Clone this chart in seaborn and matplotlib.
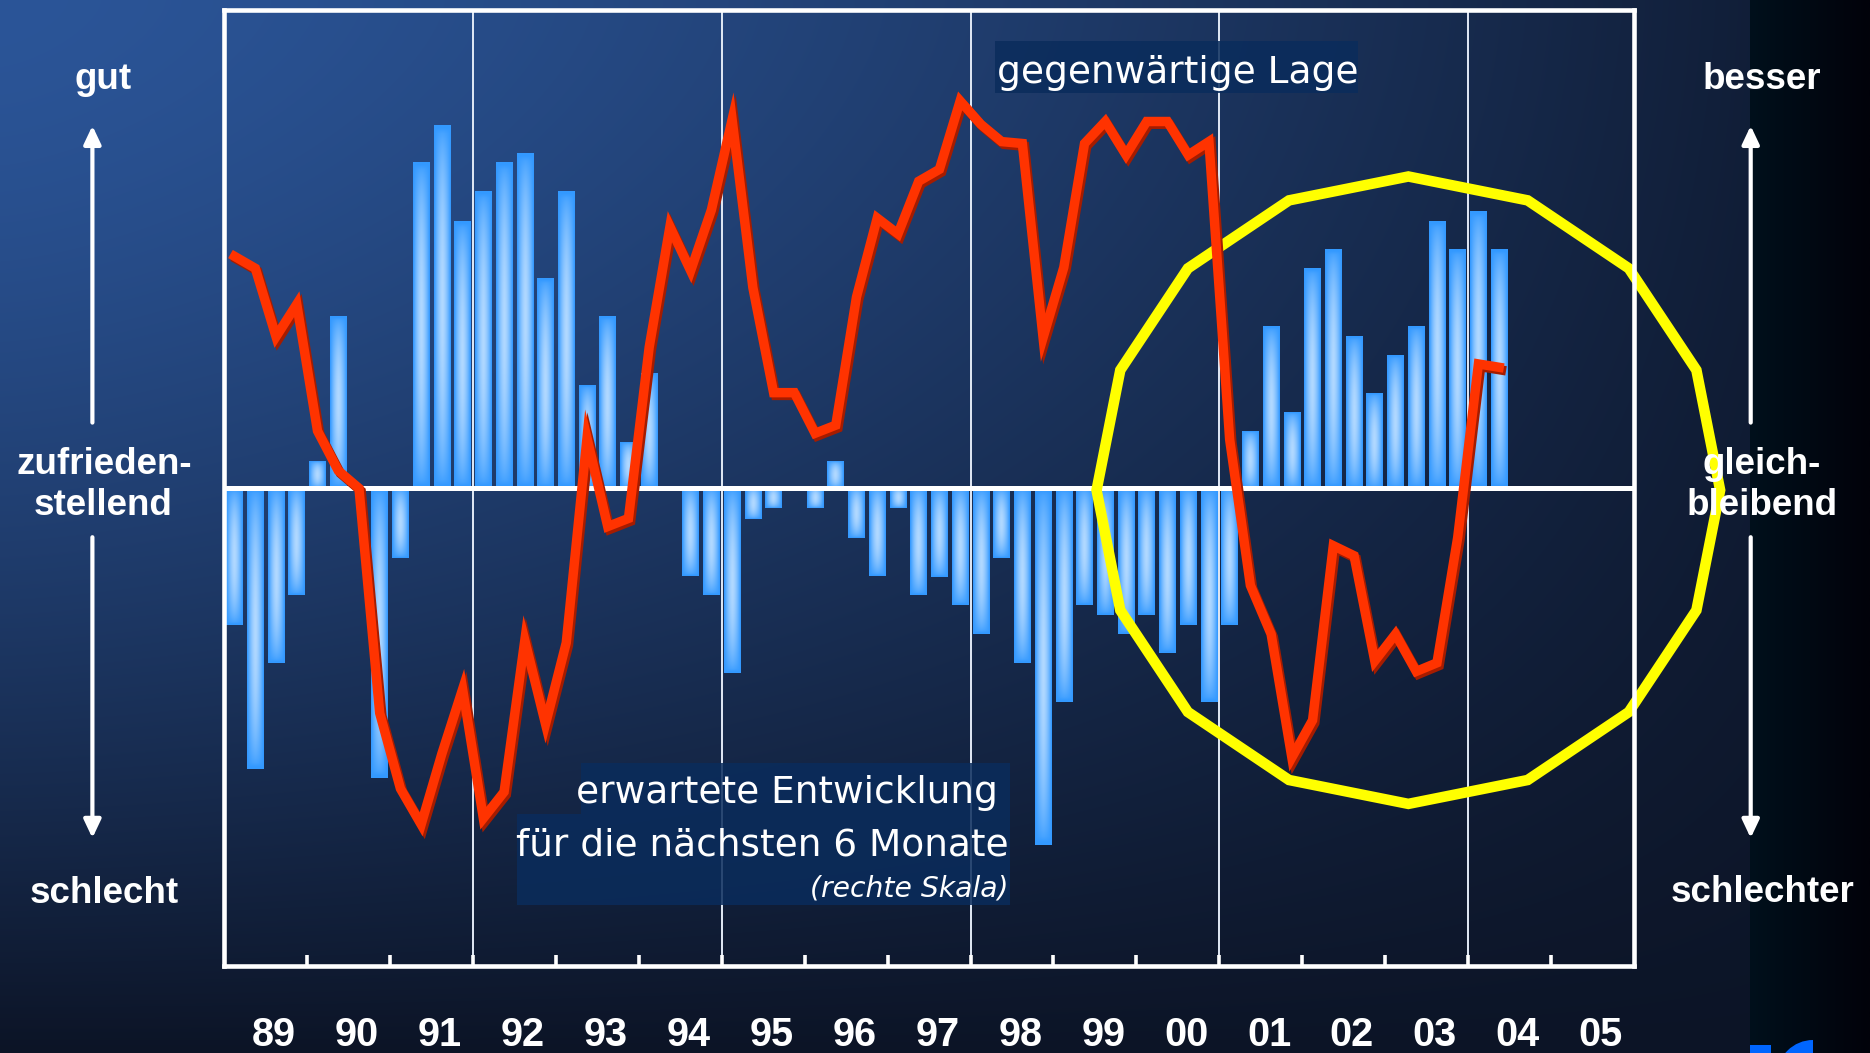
import numpy as np
import pandas as pd
import matplotlib
matplotlib.use("Agg")
import matplotlib.pyplot as plt
import matplotlib.patheffects as pe
from matplotlib.patches import Rectangle, Polygon, FancyArrowPatch, Wedge
from matplotlib.transforms import IdentityTransform
import seaborn as sns

# Daten: Quartale 1989Q1 bis 2004Q2 (Werte aus dem Bild geschaetzt, Skala -100..100)
quartale = pd.period_range("1989Q1", "2004Q2", freq="Q")

# gegenwaertige Lage (linke Skala) - rote Linie
lage = [48.4, 45.9, 31.6, 38.4, 11.9, 3.6, -0.1, -47.1,
        -62.9, -70.4, -55.6, -42.1, -69.1, -63.6, -31.9, -49.4,
        -32.4, 10.4, -8.1, -6.4, 29.4, 54.6, 45.4, 58.1,
        77.0, 41.9, 19.9, 19.9, 11.4, 13.1, 39.9, 56.4,
        53.1, 64.1, 66.6, 80.9, 76.0, 72.4, 72.0, 31.4,
        46.1, 72.0, 76.6, 69.6, 76.6, 76.6, 69.6, 72.4,
        10.1, -20.4, -30.6, -56.4, -48.6, -12.1, -14.2, -36.2,
        -30.6, -38.4, -36.6, -10.4, 25.9, 25.2]

# erwartete Entwicklung fuer die naechsten 6 Monate (rechte Skala) - Balken
erwartung = [-28.6, -58.8, -36.6, -22.5, 5.6, 35.9, 0.0, -60.7,
             -14.6, 68.0, 75.9, 55.7, 61.9, 68.0, 70.0, 43.9,
             61.9, 21.5, 35.9, 9.6, 23.9, 0.0, -18.5, -22.5,
             -38.7, -6.5, -4.2, 0.0, -4.2, 5.6, -10.5, -18.5,
             -4.2, -22.5, -18.6, -24.5, -30.5, -14.6, -36.6, -74.7,
             -44.7, -24.5, -26.5, -30.5, -26.5, -34.6, -28.6, -44.7,
             -28.6, 11.8, 33.7, 15.7, 45.9, 49.8, 31.6, 19.7,
             27.7, 33.7, 55.7, 49.8, 57.8, 49.8]

jahre = ["89", "90", "91", "92", "93", "94", "95", "96", "97",
         "98", "99", "00", "01", "02", "03", "04", "05"]
gitter_jahre = [1992, 1995, 1998, 2001, 2004]

# gelber Kreis (16-Eck) um 2001-2004
kreis_x, kreis_y = 2003.28, -0.5
kreis_rx, kreis_ry = 3.76, 65.6

df = pd.DataFrame({"x": quartale.year + (quartale.quarter - 0.5) / 4,
                   "lage": lage, "erwartung": erwartung})

W, H = 1870, 1053
fig = plt.figure(figsize=(W / 100, H / 100), dpi=100)


def fx(px):
    return px / W


def fy(py):
    return 1 - py / H


# Hintergrund-Verlauf
ty = np.linspace(0, 1, 264)[:, None]
tx = np.linspace(0, 1, W)[None, :]
f = (1 - ty ** 1.5) * (1 - 0.92 * tx ** 1.4)
hell = np.array([43, 85, 152]) / 255
dunkel = np.array([12, 20, 38]) / 255
bg = dunkel + (hell - dunkel) * f[..., None]
streifen = tx[0] >= 1750 / W
s = (tx[0][streifen] - 1750 / W) / (1 - 1750 / W)
farbe_s = (np.array([0, 16, 28]) / 255 * (1 - s)[:, None]
           + np.array([2, 2, 10]) / 255 * s[:, None])
bg[:, streifen, :] = farbe_s[None, :, :]
bg_ax = fig.add_axes([0, 0, 1, 1], zorder=-1)
bg_ax.imshow(bg, aspect="auto", extent=[0, 1, 0, 1], interpolation="bilinear")
bg_ax.axis("off")

ax = fig.add_axes([224.2 / W, (H - 966) / H, 1409.7 / W, 956.4 / H])
ax.set_facecolor("none")

# Gitterlinien
for g in gitter_jahre:
    ax.axvline(g, color="#E2EAF6", lw=1.4, zorder=1)

# Balken
sns.barplot(data=df, x="x", y="erwartung", native_scale=True, color="#3399FF",
            saturation=1, width=0.8, errorbar=None, ax=ax, zorder=2)

# Glanz-Effekt auf den Balken
basis = np.array([51, 153, 255]) / 255
licht = np.array([200, 228, 255]) / 255
u = np.linspace(0, 1, 24)
t = np.linspace(0, 1, 64)
quer = 1 - np.abs(2 * u - 1) ** 1.6
laengs = np.sin(np.pi * t) ** 0.6
glanz = basis + (licht - basis) * (0.85 * laengs[:, None] * quer[None, :])[..., None]
for bar in list(ax.patches):
    h = bar.get_height()
    if abs(h) < 0.5:
        continue
    x0, w = bar.get_x(), bar.get_width()
    ax.imshow(glanz, extent=[x0, x0 + w, min(0, h), max(0, h)], aspect="auto",
              interpolation="bilinear", zorder=2.1)

# Nulllinie
ax.axhline(0, color="white", lw=3.6, zorder=3)

# gelbes 16-Eck
winkel = np.deg2rad(90 - 22.5 * np.arange(16))
ecken = np.column_stack([kreis_x + kreis_rx * np.cos(winkel),
                         kreis_y + kreis_ry * np.sin(winkel)])
ax.add_patch(Polygon(ecken, closed=True, fill=False, edgecolor="#FFFF00",
                     lw=7.6, zorder=4, clip_on=False, joinstyle="miter"))

# rote Linie
sns.lineplot(data=df, x="x", y="lage", color="#FF3300", lw=6.8, ax=ax,
             zorder=5, sort=False)
linie = ax.lines[-1]
linie.set_solid_joinstyle("miter")
linie.set_path_effects([pe.Stroke(offset=(1.6, -2.0), linewidth=6.8, foreground="#A51C00"),
                        pe.Normal()])

ax.set_xlim(1989, 2006)
ax.set_ylim(-100, 100)
ax.set_xlabel("")
ax.set_ylabel("")
ax.set_yticks([])
ax.set_xticks(np.arange(1990, 2006))
ax.set_xticklabels([])
ax.set_xticks(np.arange(1989, 2006) + 0.6, minor=True)
ax.set_xticklabels(jahre, minor=True)
ax.tick_params(axis="x", which="major", direction="in", length=8, width=2.6,
               color="white", bottom=True, top=False)
ax.tick_params(axis="x", which="minor", length=0, pad=36, labelsize=28.5,
               labelcolor="white")
for lab in ax.get_xticklabels(minor=True):
    lab.set_fontweight("bold")
    lab.set_fontfamily("Liberation Sans")
for sp in ax.spines.values():
    sp.set_visible(True)
    sp.set_color("white")
    sp.set_linewidth(3.3)
    sp.set_zorder(6)

# Beschriftung links und rechts
lab_kw = dict(color="white", fontsize=26.5, fontweight="bold",
              family="Liberation Sans", ha="center", va="baseline", zorder=8)
fig.text(fx(102.8), fy(88.6), "gut", **lab_kw)
fig.text(fx(104.5), fy(474), "zufrieden-", **lab_kw)
fig.text(fx(103.5), fy(515), "stellend", **lab_kw)
fig.text(fx(104.3), fy(903), "schlecht", **lab_kw)
fig.text(fx(1761.5), fy(88.6), "besser", **lab_kw)
fig.text(fx(1762), fy(474), "gleich-", **lab_kw)
fig.text(fx(1762.5), fy(515), "bleibend", **lab_kw)
fig.text(fx(1763), fy(902), "schlechter", **lab_kw)

for px in [92.4, 1750.7]:
    for a, b in [(422.6, 125.8), (537.2, 838)]:
        fig.add_artist(FancyArrowPatch((fx(px), fy(a)), (fx(px), fy(b)),
                                       transform=fig.transFigure,
                                       arrowstyle="-|>,head_length=0.55,head_width=0.26",
                                       mutation_scale=20, color="white", lw=3.0,
                                       shrinkA=0, shrinkB=0, zorder=8))

# Textkaesten
box_kw = dict(transform=fig.transFigure, facecolor="#0A2C5C", alpha=0.85,
              edgecolor="none", zorder=7)
fig.add_artist(Rectangle((fx(995), fy(93)), 363 / W, 52 / H, **box_kw))
fig.add_artist(Rectangle((fx(581), fy(814)), 429 / W, 51 / H, **box_kw))
fig.add_artist(Rectangle((fx(517), fy(905)), 493 / W, 91 / H, **box_kw))

txt_kw = dict(color="white", family="DejaVu Sans", va="baseline", zorder=8)
fig.text(fx(997), fy(83), "gegenwärtige Lage", fontsize=27, ha="left", **txt_kw)
fig.text(fx(997.6), fy(803), "erwartete Entwicklung", fontsize=27, ha="right", **txt_kw)
fig.text(fx(1009), fy(855.5), "für die nächsten 6 Monate", fontsize=27, ha="right", **txt_kw)
fig.text(fx(1009), fy(896), "(rechte Skala)", fontsize=20.3, style="italic",
         ha="right", **txt_kw)

# angeschnittenes Logo unten rechts
fig.add_artist(Rectangle((1750, 0), 21, 8, transform=IdentityTransform(),
                         facecolor="#0066FF", edgecolor="none", zorder=8))
fig.add_artist(Wedge((1813, -23), 36, 90, 180, transform=IdentityTransform(),
                     facecolor="#0066FF", edgecolor="none", zorder=8))

fig.savefig("out.png", dpi=100)
